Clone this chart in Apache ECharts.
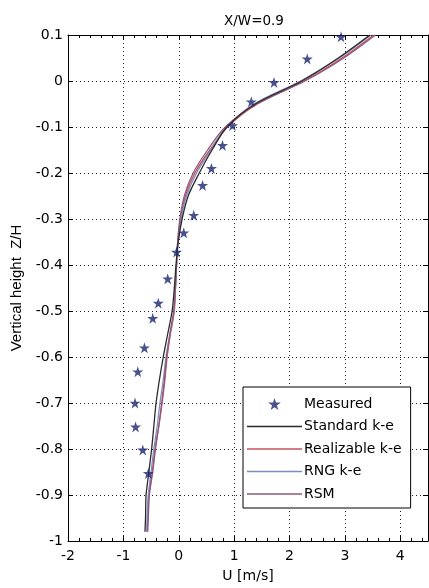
<!DOCTYPE html>
<html>
<head>
<meta charset="utf-8">
<script src="https://cdn.jsdelivr.net/npm/echarts@6/dist/echarts.min.js"></script>
<style>
  html, body { margin: 0; padding: 0; background: #ffffff; }
  #chart { width: 429px; height: 588px; }
</style>
</head>
<body>
<div id="chart"></div>
<script>
// Velocity profile at X/W = 0.9: measured points and four turbulence models
const measuredZ = [0.096, 0.048, -0.003, -0.045, -0.097, -0.14, -0.19, -0.227, -0.292, -0.33,
                   -0.372, -0.43, -0.483, -0.516, -0.58, -0.632, -0.70, -0.752, -0.802, -0.853];
const measuredU = [2.93, 2.32, 1.72, 1.31, 0.97, 0.79, 0.59, 0.43, 0.27, 0.09,
                   -0.04, -0.2, -0.37, -0.47, -0.62, -0.74, -0.79, -0.78, -0.65, -0.55];

// Heights at which model profiles are sampled
const modelZ = [-0.98, -0.95, -0.9, -0.85, -0.8, -0.75, -0.7, -0.65, -0.6, -0.55, -0.5, -0.45,
                -0.4, -0.35, -0.3, -0.25, -0.2, -0.15, -0.1, -0.05, 0, 0.05, 0.1];
const standardU   = [-0.61, -0.60, -0.59, -0.54, -0.49, -0.45, -0.41, -0.35, -0.28, -0.20, -0.12, -0.08,
                     -0.05, -0.01, 0.06, 0.17, 0.37, 0.60, 0.87, 1.38, 2.22, 2.88, 3.45];
const realizableU = [-0.57, -0.56, -0.54, -0.48, -0.43, -0.36, -0.30, -0.25, -0.21, -0.15, -0.08, -0.06,
                     -0.04, -0.02, 0.03, 0.12, 0.29, 0.56, 0.88, 1.42, 2.26, 2.95, 3.52];
const rngU        = [-0.58, -0.57, -0.55, -0.50, -0.45, -0.39, -0.34, -0.28, -0.23, -0.16, -0.09, -0.06,
                     -0.04, -0.01, 0.04, 0.14, 0.32, 0.58, 0.86, 1.36, 2.20, 2.90, 3.47];
const rsmU        = [-0.56, -0.55, -0.53, -0.47, -0.42, -0.36, -0.31, -0.26, -0.22, -0.16, -0.09, -0.06,
                     -0.04, -0.02, 0.02, 0.10, 0.26, 0.52, 0.84, 1.40, 2.28, 2.98, 3.55];

const seriesNames = ['Measured', 'Standard k-e', 'Realizable k-e', 'RNG k-e', 'RSM'];

const FONT = '"DejaVu Sans", sans-serif';
const FONT_Y = '"Liberation Sans", Arial, sans-serif';
const STAR = 'path://M50,0 L61.2,34.5 L97.6,34.5 L68.2,55.9 L79.4,90.5 L50,69.1 L20.6,90.5 L31.8,55.9 L2.4,34.5 L38.8,34.5 Z';
// thin bar used as the legend's line sample
const LINE_ICON = 'path://M0,0 L55,0 L55,1.3 L0,1.3 Z';

function pairs(us, zs) { return us.map((u, i) => [u, zs[i]]); }

function modelSeries(name, us, color, z) {
  return {
    name: name, type: 'line', data: pairs(us, modelZ),
    showSymbol: false, symbol: 'none', smooth: 0.3, z: z,
    lineStyle: { color: color, width: 1.3 }, itemStyle: { color: color },
    clip: true
  };
}

const gridLine = { show: true, lineStyle: { color: '#222', type: [1, 3], width: 1 } };

const chart = echarts.init(document.getElementById('chart'), null, { renderer: 'canvas' });
chart.setOption({
  backgroundColor: '#ffffff',
  animation: false,
  textStyle: { fontFamily: FONT },
  title: {
    text: 'X/W=0.9', left: 249, top: 9, textAlign: 'center',
    textStyle: { fontSize: 13.5, fontWeight: 'normal', color: '#000', fontFamily: FONT }
  },
  grid: { left: 68, right: 1, top: 35, bottom: 46 },
  legend: {
    orient: 'vertical', left: 243, top: 387,
    data: seriesNames.map(n => n === 'Measured' ? { name: n, icon: STAR } : { name: n, icon: LINE_ICON }),
    itemWidth: 55, itemHeight: 12, itemGap: 8.5,
    backgroundColor: '#fff', borderColor: '#000', borderWidth: 1,
    padding: [10, 9, 7, 4],
    textStyle: { fontSize: 14, color: '#000', fontFamily: FONT, padding: [0, 0, 0, -3] }
  },
  xAxis: [{
    type: 'value', min: -2, max: 4.5, interval: 1,
    name: 'U [m/s]', nameLocation: 'middle', nameGap: 28,
    nameTextStyle: { fontSize: 14, color: '#000', fontFamily: FONT },
    axisLine: { show: true, onZero: false, lineStyle: { color: '#000', width: 1 } },
    axisTick: { show: true, inside: true, length: 5, lineStyle: { color: '#000' } },
    minorTick: { show: true, splitNumber: 5, length: 3, lineStyle: { color: '#000' } },
    axisLabel: { fontSize: 14, color: '#000', margin: 8, showMaxLabel: false, fontFamily: FONT },
    splitLine: gridLine
  }, {
    type: 'value', position: 'top', min: -2, max: 4.5, interval: 1,
    axisLine: { show: true, onZero: false, lineStyle: { color: '#000', width: 1 } },
    axisTick: { show: true, inside: true, length: 5, lineStyle: { color: '#000' } },
    minorTick: { show: true, splitNumber: 5, length: 3, lineStyle: { color: '#000' } },
    axisLabel: { show: false }, splitLine: { show: false }
  }],
  yAxis: [{
    type: 'value', min: -1, max: 0.1, interval: 0.1,
    name: 'Vertical height  Z/H', nameLocation: 'middle', nameGap: 42,
    nameTextStyle: { fontSize: 15, color: '#000', fontFamily: FONT_Y },
    axisLine: { show: true, onZero: false, lineStyle: { color: '#000', width: 1 } },
    axisTick: { show: true, inside: true, length: 5, lineStyle: { color: '#000' } },
    axisLabel: { fontSize: 14, color: '#000', margin: 5, fontFamily: FONT,
                 formatter: v => String(Math.round(v * 10) / 10) },
    splitLine: gridLine
  }, {
    type: 'value', position: 'right', min: -1, max: 0.1, interval: 0.1,
    axisLine: { show: true, onZero: false, lineStyle: { color: '#000', width: 1 } },
    axisTick: { show: true, inside: true, length: 5, lineStyle: { color: '#000' } },
    axisLabel: { show: false }, splitLine: { show: false }
  }],
  series: [
    {
      name: 'Measured', type: 'scatter', data: pairs(measuredU, measuredZ),
      symbol: STAR, symbolSize: 11, z: 5,
      itemStyle: { color: '#1a2570' }
    },
    modelSeries('Realizable k-e', realizableU, '#c8505e', 2),
    modelSeries('RNG k-e', rngU, '#7c8cc0', 3),
    modelSeries('RSM', rsmU, '#8e5a7a', 3),
    modelSeries('Standard k-e', standardU, '#2a2a2a', 4)
  ]
});
</script>
</body>
</html>
